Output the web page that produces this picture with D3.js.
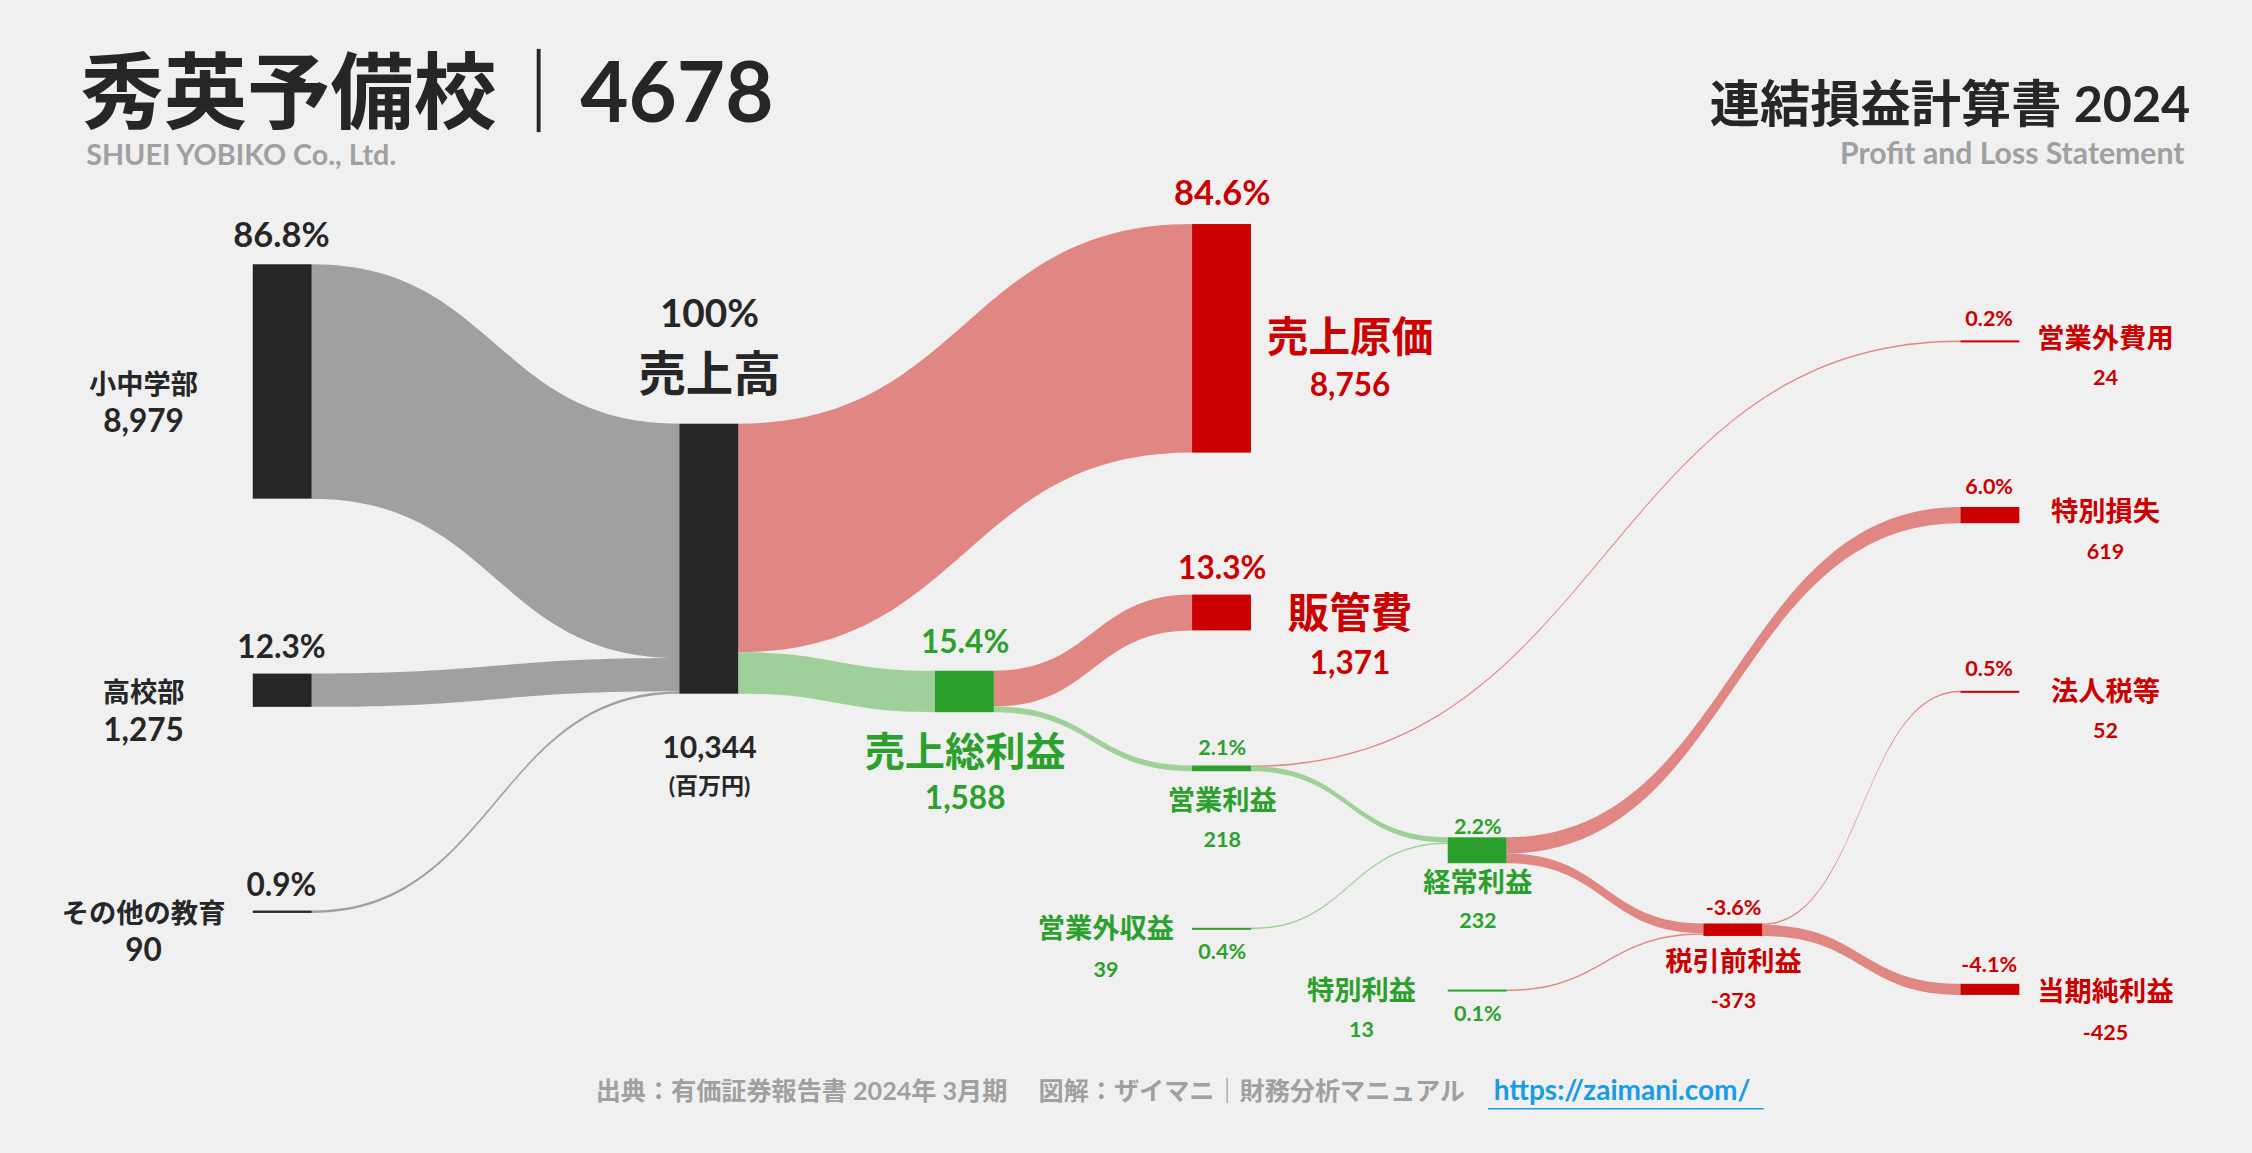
<!DOCTYPE html>
<html>
<head>
<meta charset="utf-8">
<script src="https://cdn.jsdelivr.net/npm/d3@7"></script>
<style>
  body { margin: 0; background: #f0f0f0; }
  svg { display: block; }
  text { font-family: Lato, "Noto Sans CJK JP", sans-serif; font-weight: 700; }
</style>
</head>
<body>
<svg id="chart" width="2252" height="1153"></svg>
<script>
// data (百万円)
const nodeNames = ["小中学部", "高校部", "その他の教育", "売上高", "売上原価", "売上総利益", "販管費",
  "営業利益", "営業外収益", "営業外費用", "経常利益", "特別利益", "特別損失", "税引前利益", "法人税等", "当期純利益"];
const nodeValues = [8979, 1275, 90, 10344, 8756, 1588, 1371, 218, 39, 24, 232, 13, 619, -373, 52, -425];
const nodeKinds = ["rev", "rev", "rev", "rev", "cost", "profit", "cost", "profit", "profit", "cost", "profit", "profit", "cost", "loss", "cost", "loss"];
const linkSources = ["小中学部", "高校部", "その他の教育", "売上高", "売上高", "売上総利益", "売上総利益",
  "営業利益", "営業利益", "営業外収益", "経常利益", "経常利益", "特別利益", "税引前利益", "税引前利益"];
const linkTargets = ["売上高", "売上高", "売上高", "売上原価", "売上総利益", "販管費", "営業利益",
  "営業外費用", "経常利益", "経常利益", "特別損失", "税引前利益", "税引前利益", "法人税等", "当期純利益"];
const linkValues = [8979, 1275, 90, 8756, 1588, 1371, 218, 24, 194, 39, 619, 373, 13, 52, 425];

// layout, in units of a 1568px-wide design, scaled up below
const S = 2252 / 1568;
const colX = [176, 473, 651, 830, 1008, 1186, 1365];
const nodeCol = { "小中学部": 0, "高校部": 0, "その他の教育": 0, "売上高": 1, "売上原価": 3, "売上総利益": 2, "販管費": 3,
  "営業利益": 3, "営業外収益": 3, "営業外費用": 6, "経常利益": 4, "特別利益": 4, "特別損失": 6, "税引前利益": 5, "法人税等": 6, "当期純利益": 6 };
const nodeTop = { "小中学部": 184, "高校部": 469, "その他の教育": 634, "売上高": 295, "売上原価": 156, "売上総利益": 467, "販管費": 414,
  "営業利益": 533, "営業外収益": 646, "営業外費用": 237, "経常利益": 583, "特別利益": 689, "特別損失": 353, "税引前利益": 643, "法人税等": 481, "当期純利益": 685 };
// label lines: [text, x, y, size]; "%" = percent of revenue, "#" = value
const labels = {
  "小中学部": [["%", 196, 172, 24], ["小中学部", 100, 274, 19], ["#", 100, 301, 22]],
  "高校部": [["%", 196, 458, 22], ["高校部", 100, 489, 19], ["#", 100, 516, 22]],
  "その他の教育": [["%", 196, 624, 22], ["その他の教育", 100, 643, 19], ["#", 100, 669, 22]],
  "売上高": [["100%", 494, 228, 27], ["売上高", 494, 272, 33], ["#", 494, 528, 21], ["(百万円)", 494, 553, 16]],
  "売上原価": [["%", 851, 143, 24], ["売上原価", 940, 245, 29], ["#", 940, 276, 22]],
  "販管費": [["%", 851, 403, 22], ["販管費", 940, 437, 29], ["#", 940, 469, 22]],
  "売上総利益": [["%", 672, 455, 22], ["売上総利益", 672, 533, 28], ["#", 672, 563, 22]],
  "営業利益": [["%", 851, 526, 15], ["営業利益", 851, 564, 19], ["#", 851, 590, 15]],
  "経常利益": [["%", 1029, 581, 15], ["経常利益", 1029, 621, 19], ["#", 1029, 646, 15]],
  "営業外収益": [["%", 851, 668, 15], ["営業外収益", 770, 653, 19], ["#", 770, 680, 15]],
  "特別利益": [["%", 1029, 711, 15], ["特別利益", 948, 696, 19], ["#", 948, 722, 15]],
  "税引前利益": [["%", 1207, 637, 15], ["税引前利益", 1207, 676, 19], ["#", 1207, 702, 15]],
  "営業外費用": [["%", 1385, 227, 15], ["営業外費用", 1466, 242, 19], ["#", 1466, 268, 15]],
  "特別損失": [["%", 1385, 344, 15], ["特別損失", 1466, 363, 19], ["#", 1466, 389, 15]],
  "法人税等": [["%", 1385, 471, 15], ["法人税等", 1466, 488, 19], ["#", 1466, 514, 15]],
  "当期純利益": [["%", 1385, 677, 15], ["当期純利益", 1466, 697, 19], ["#", 1466, 724, 15]]
};
const colors = { rev: "#262626", cost: "#cc0000", profit: "#2ca02c", loss: "#cc0000" };
const linkColors = { rev: "#a0a0a0", cost: "#e08783", profit: "#9fd09a", loss: "#e08783" };

const svg = d3.select("#chart");
const fmt = v => (v < 0 ? "-" : "") + d3.format(",")(Math.abs(v));
const total = nodeValues[nodeNames.indexOf("売上高")];
const h = d3.scaleLinear().domain([0, total]).range([0, 188 * S]);
const nodeW = 41 * S;

const nodes = nodeNames.map((name, i) => ({ name, value: nodeValues[i], kind: nodeKinds[i], inY: 0, outY: 0 }));
const byName = Object.fromEntries(nodes.map(n => [n.name, n]));
const links = linkSources.map((s, i) => ({ source: byName[linkSources[i]], target: byName[linkTargets[i]], value: linkValues[i] }));
nodes.forEach(n => {
  const inSum = d3.sum(links.filter(l => l.target === n), l => l.value);
  const outSum = d3.sum(links.filter(l => l.source === n), l => l.value);
  n.x0 = colX[nodeCol[n.name]] * S;
  n.x1 = n.x0 + nodeW;
  n.y0 = nodeTop[n.name] * S;
  n.h = Math.max(2, h(Math.max(Math.abs(n.value), inSum, outSum)));
});

// links
links.forEach(l => {
  const w = Math.max(1.5, h(l.value));
  const x0 = l.source.x1, x1 = l.target.x0;
  const ya = l.source.y0 + l.source.outY, yb = l.target.y0 + l.target.inY;
  l.source.outY += h(l.value);
  l.target.inY += h(l.value);
  const xm = (x0 + x1) / 2;
  const p = d3.path();
  p.moveTo(x0, ya);
  p.bezierCurveTo(xm, ya, xm, yb, x1, yb);
  p.lineTo(x1, yb + w);
  p.bezierCurveTo(xm, yb + w, xm, ya + w, x0, ya + w);
  p.closePath();
  l.d = p.toString();
});
svg.append("g").selectAll("path").data(links).join("path")
  .attr("d", d => d.d)
  .attr("fill", d => linkColors[d.target.name === "売上高" ? "rev" : d.target.kind]);

svg.append("g").selectAll("rect").data(nodes).join("rect")
  .attr("x", d => d.x0).attr("y", d => d.y0)
  .attr("width", nodeW).attr("height", d => d.h)
  .attr("fill", d => colors[d.kind]);

// labels
nodes.forEach(n => {
  labels[n.name].forEach(([t, x, y, size]) => {
    let txt = t;
    if (t === "%") txt = (n.value / total * 100).toFixed(1) + "%";
    if (t === "#") txt = fmt(n.value);
    svg.append("text")
      .attr("x", x * S).attr("y", y * S)
      .attr("text-anchor", "middle")
      .attr("font-size", size * S)
      .attr("fill", colors[n.kind])
      .text(txt);
  });
});

// titles
svg.append("text").attr("x", 56 * S).attr("y", 85 * S).attr("font-size", 58 * S).attr("font-weight", 900).attr("fill", "#262626")
  .text("秀英予備校｜4678");
svg.append("text").attr("x", 60 * S).attr("y", 115 * S).attr("font-size", 20 * S).attr("fill", "#a0a0a0")
  .text("SHUEI YOBIKO Co., Ltd.");
svg.append("text").attr("x", 1525 * S).attr("y", 85 * S).attr("text-anchor", "end").attr("font-size", 35 * S).attr("font-weight", 900).attr("fill", "#262626")
  .text("連結損益計算書 2024");
svg.append("text").attr("x", 1521 * S).attr("y", 114 * S).attr("text-anchor", "end").attr("font-size", 21 * S).attr("fill", "#a0a0a0")
  .text("Profit and Loss Statement");

// footer
svg.append("text").attr("x", 1020 * S).attr("y", 766 * S).attr("text-anchor", "end").attr("font-size", 17.5 * S).attr("fill", "#a0a0a0")
  .text("出典：有価証券報告書 2024年 3月期　 図解：ザイマニ｜財務分析マニュアル");
svg.append("text").attr("x", 1040 * S).attr("y", 766 * S).attr("font-size", 19.5 * S).attr("fill", "#1a9be6")
  .text("https://zaimani.com/");
svg.append("line").attr("x1", 1036 * S).attr("x2", 1228 * S).attr("y1", 772 * S).attr("y2", 772 * S)
  .attr("stroke", "#1a9be6").attr("stroke-width", 1.5);
</script>
</body>
</html>
